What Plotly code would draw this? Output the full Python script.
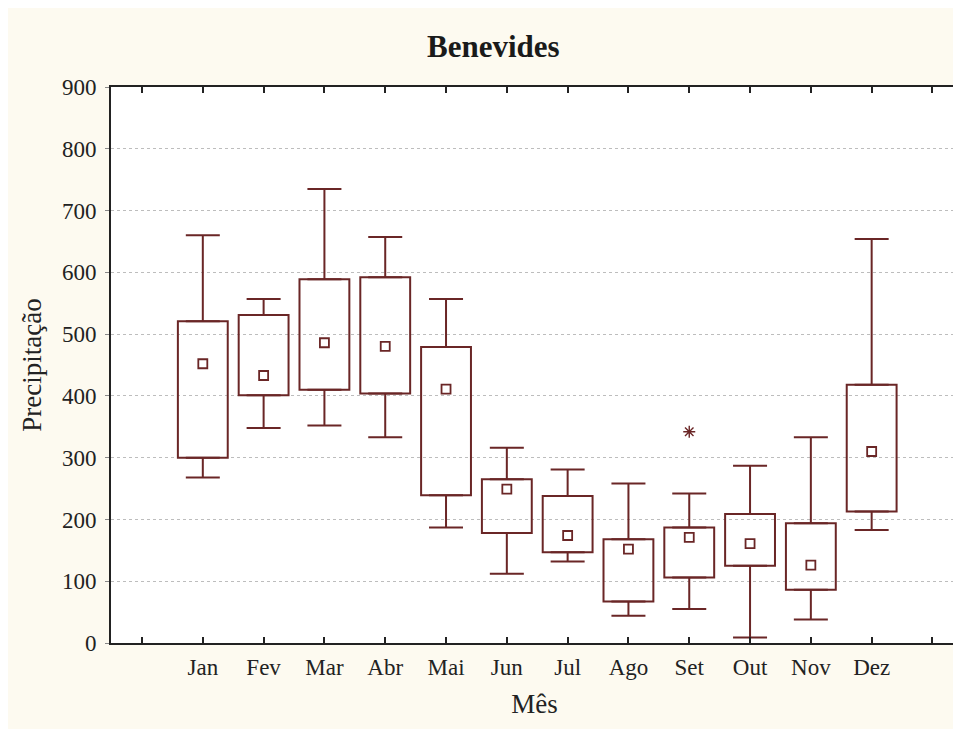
import plotly.graph_objects as go

# ---------------------------------------------------------------------------
# Data
# ---------------------------------------------------------------------------

months = ["Jan", "Fev", "Mar", "Abr", "Mai", "Jun", "Jul", "Ago", "Set", "Out", "Nov", "Dez"]
whisker_low = [268, 348, 352, 333, 187, 112, 132, 44, 55, 9, 38, 183]
q1 = [300, 401, 410, 404, 239, 178, 147, 67, 106, 125, 86, 213]
median = [452, 433, 486, 480, 411, 249, 174, 152, 171, 161, 126, 310]
q3 = [521, 531, 589, 592, 479, 265, 238, 168, 187, 209, 194, 418]
whisker_high = [660, 557, 735, 657, 557, 316, 281, 258, 242, 287, 333, 654]
outlier_month = ["Set"]
outlier_value = [342]

# ---------------------------------------------------------------------------
# Style
# ---------------------------------------------------------------------------

LINE = "#6a2626"
FONT = "Liberation Serif"
BG = "#fdfaf0"

idx = list(range(len(months)))
out_idx = [months.index(m) for m in outlier_month]

fig = go.Figure()

# boxes (q1 -> q3)
fig.add_trace(
    go.Bar(
        x=idx,
        y=[b - a for a, b in zip(q1, q3)],
        base=q1,
        width=0.82,
        marker=dict(color="rgba(255,255,255,0)", line=dict(color=LINE, width=2)),
        hoverinfo="skip",
        showlegend=False,
    )
)

# upper whiskers
fig.add_trace(
    go.Scatter(
        x=idx,
        y=q3,
        mode="markers",
        marker=dict(size=1, opacity=0),
        error_y=dict(
            type="data",
            symmetric=False,
            array=[h - b for h, b in zip(whisker_high, q3)],
            arrayminus=[0] * len(idx),
            color=LINE,
            thickness=2,
            width=17,
        ),
        hoverinfo="skip",
        showlegend=False,
    )
)

# lower whiskers
fig.add_trace(
    go.Scatter(
        x=idx,
        y=q1,
        mode="markers",
        marker=dict(size=1, opacity=0),
        error_y=dict(
            type="data",
            symmetric=False,
            array=[0] * len(idx),
            arrayminus=[a - l for a, l in zip(q1, whisker_low)],
            color=LINE,
            thickness=2,
            width=17,
        ),
        hoverinfo="skip",
        showlegend=False,
    )
)

# medians
fig.add_trace(
    go.Scatter(
        x=idx,
        y=median,
        mode="markers",
        marker=dict(symbol="square-open", size=9, color=LINE, line=dict(width=1.8)),
        showlegend=False,
    )
)

# outliers
fig.add_trace(
    go.Scatter(
        x=out_idx,
        y=outlier_value,
        mode="markers",
        marker=dict(symbol="asterisk-open", size=10, color=LINE, line=dict(width=1.4, color=LINE)),
        showlegend=False,
    )
)

fig.update_layout(
    width=961,
    height=729,
    paper_bgcolor=BG,
    plot_bgcolor="white",
    font=dict(family=FONT, color="#222222"),
    title=dict(
        text="<b>Benevides</b>",
        x=0.505,
        xref="container",
        xanchor="center",
        y=0.948,
        yref="container",
        yanchor="middle",
        font=dict(size=31, family=FONT, color="#1a1a1a"),
    ),
    margin=dict(l=103, r=11, t=79, b=94),
    showlegend=False,
)

fig.update_xaxes(
    range=[-1.51, 12.42],
    tickvals=list(range(-1, 13)),
    ticktext=[""] + months + [""],
    ticks="inside",
    ticklen=6,
    tickwidth=2,
    tickcolor="#222222",
    showgrid=False,
    zeroline=False,
    showline=True,
    linecolor="#222222",
    linewidth=2,
    mirror="ticks",
    automargin=False,
    ticklabelstandoff=2,
    tickfont=dict(size=23, family=FONT),
    title=dict(text="Mês", font=dict(size=27, family=FONT), standoff=16),
)

fig.update_yaxes(
    range=[0, 900],
    tickvals=list(range(0, 901, 100)),
    ticks="outside",
    ticklen=4,
    tickwidth=1,
    tickcolor="#888888",
    showgrid=True,
    gridcolor="#bdbdbd",
    griddash="dot",
    gridwidth=1,
    zeroline=False,
    showline=True,
    linecolor="#222222",
    linewidth=2,
    mirror=True,
    automargin=False,
    ticklabelstandoff=4,
    tickfont=dict(size=23, family=FONT),
    title=dict(text="Precipitação", font=dict(size=27, family=FONT), standoff=12),
)

fig.write_html("out.html")
